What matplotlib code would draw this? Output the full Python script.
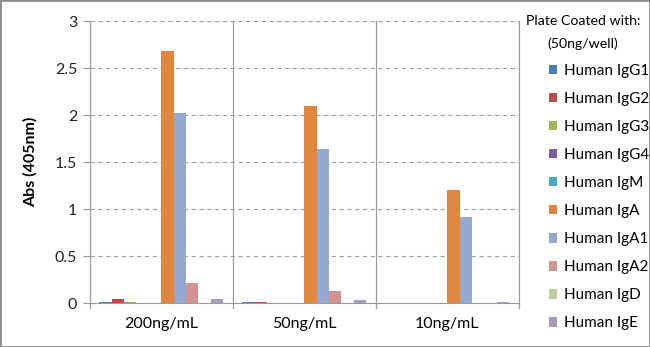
import numpy as np
import matplotlib
matplotlib.use("Agg")
import matplotlib.pyplot as plt
from matplotlib.patches import Rectangle

plt.rcParams['font.family'] = ['Lato', 'DejaVu Sans']

groups = ["200ng/mL", "50ng/mL", "10ng/mL"]
series = ["Human IgG1", "Human IgG2", "Human IgG3", "Human IgG4", "Human IgM",
          "Human IgA", "Human IgA1", "Human IgA2", "Human IgD", "Human IgE"]
colors = ["#4A7EBB", "#BE4B48", "#98B954", "#7D60A0", "#46AAC5",
          "#E0863E", "#93A9D0", "#D49391", "#BCD095", "#A99BBF"]

# values per series: [200, 50, 10 ng/mL]
igg1 = [0.015, 0.01, 0.008]
igg2 = [0.045, 0.018, 0.008]
igg3 = [0.015, 0.006, 0.006]
igg4 = [0.008, 0.006, 0.008]
igm = [0.006, 0.006, 0.006]
iga = [2.68, 2.10, 1.20]
iga1 = [2.02, 1.64, 0.92]
iga2 = [0.22, 0.135, 0.006]
igd = [0.006, 0.006, 0.006]
ige = [0.045, 0.035, 0.014]
values = [igg1, igg2, igg3, igg4, igm, iga, iga1, iga2, igd, ige]

fig = plt.figure(figsize=(6.5, 3.47), dpi=100)
ax = fig.add_axes([0.138, 0.126, 0.66, 0.813])

n = len(series)
bw = 0.867 / n
x = np.arange(len(groups))
for i, (vals, c) in enumerate(zip(values, colors)):
    ax.bar(x - 0.4335 + bw * (i + 0.5), vals, bw, color=c, label=series[i], zorder=3)

ax.set_xlim(-0.5, len(groups) - 0.5)
ax.set_ylim(0, 3)
ax.set_yticks([0, 0.5, 1, 1.5, 2, 2.5, 3])
ax.set_yticklabels(["0", "0.5", "1", "1.5", "2", "2.5", "3"])
ax.yaxis.grid(True, linestyle=(0, (4, 3)), color="#A0A0A0", linewidth=0.8, zorder=0)

# vertical separators between groups
for b in np.arange(len(groups) + 1) - 0.5:
    ax.plot([b, b], [-0.05, 3], color="#9A9A9A", linewidth=0.9, clip_on=False, zorder=1)

ax.set_xticks(x)
ax.set_xticklabels(groups, fontsize=11.5)
ax.tick_params(axis="x", length=0, pad=10)
ax.tick_params(axis="y", length=5, color="#9A9A9A", labelsize=11.5, pad=4, labelcolor="#222222")
for s in ["top", "right", "left"]:
    ax.spines[s].set_visible(False)
ax.spines["bottom"].set_color("#9A9A9A")
ax.set_ylabel("Abs (405nm)", fontsize=11.5, fontweight="bold", labelpad=12)

# legend title drawn separately so it can be centred like the original
fig.text(583 / 650, 1 - 21 / 347, "Plate Coated with:", ha="center", va="center", fontsize=10.2)
fig.text(583 / 650, 1 - 44 / 347, "(50ng/well)", ha="center", va="center", fontsize=10.2)

leg = ax.legend(loc="upper left", bbox_to_anchor=(549 / 650, 1 - 64 / 347),
                bbox_transform=fig.transFigure, frameon=False,
                fontsize=11, handlelength=0.55, handleheight=0.55, handletextpad=0.4,
                labelspacing=0.92, borderpad=0, borderaxespad=0)

fig.patches.append(Rectangle((0, 0), 1, 1, transform=fig.transFigure, fill=False,
                             edgecolor="#8C8C8C", linewidth=2))

fig.savefig("out.png", dpi=100)
